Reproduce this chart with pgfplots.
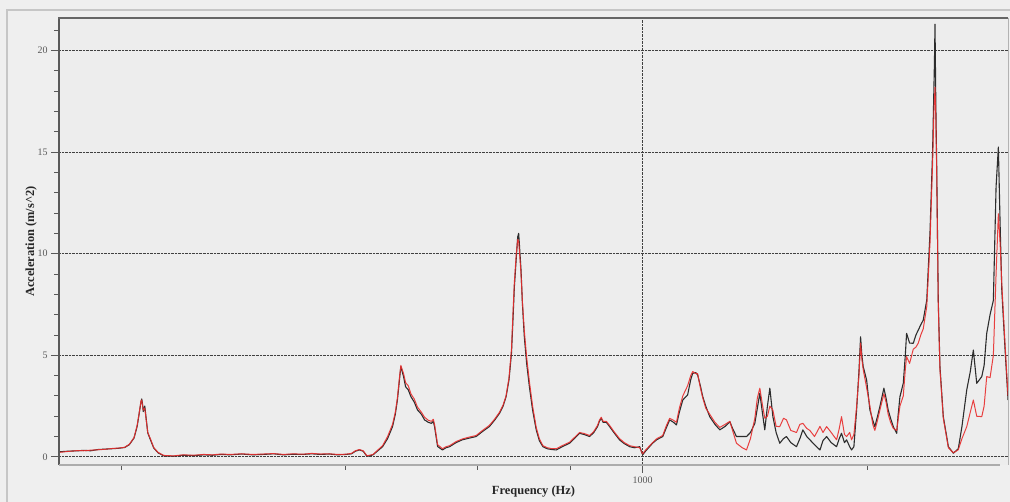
\documentclass[border=0pt]{standalone}
\usepackage{pgfplots}
\pgfplotsset{compat=1.18}
\usepackage{pgfplotstable}
\usepackage{fontspec}
\setmainfont{Liberation Serif}
\definecolor{bgc}{RGB}{239,239,239}
\definecolor{plotbg}{RGB}{237,237,237}
\definecolor{blk}{RGB}{45,45,45}
\definecolor{redc}{RGB}{232,45,45}
\definecolor{frame}{RGB}{90,90,90}

\pgfplotstableread{
f a
165 0.25
170 0.28
175 0.3
178 0.32
182 0.3
186 0.36
190 0.38
194 0.4
198 0.42
202 0.46
205 0.6
208 0.93
210 1.5
211 1.98
212.5 2.7
213 2.85
213.5 2.6
214 2.23
215 2.5
217 1.18
219 0.8
221 0.44
224 0.2
228 0.05
235 0.03
242 0.08
250 0.06
258 0.1
265 0.08
272 0.12
280 0.1
290 0.14
300 0.1
310 0.12
320 0.15
330 0.1
340 0.13
350 0.12
360 0.15
370 0.12
380 0.14
390 0.1
400 0.12
407 0.15
412 0.28
417 0.34
422 0.28
427 0.02
435 0.1
448 0.5
455 0.9
462 1.49
466 2.1
469 2.8
472 3.8
474 4.44
476 4.2
478 3.95
481 3.45
485 3.3
489 2.96
494 2.7
499 2.31
505 2.1
510 1.82
516 1.7
521 1.65
524 1.75
526 1.49
531 0.51
539 0.34
545 0.45
551 0.5
562 0.7
573 0.84
585 0.92
598 1.0
610 1.25
623 1.49
633 1.8
643 2.15
650 2.5
656 2.96
662 3.8
667 5.1
670 6.7
673 8.37
677 9.8
680 10.83
682 11.0
684 10.3
687 9.19
690 7.5
694 5.91
699 4.6
705 3.45
712 2.3
720 1.33
727 0.8
735 0.5
745 0.4
756 0.36
766 0.34
780 0.5
798 0.67
810 0.9
823 1.16
835 1.1
849 1.0
860 1.2
870 1.49
875 1.75
880 1.9
885 1.7
894 1.7
903 1.49
915 1.2
931 0.84
945 0.65
961 0.5
975 0.45
991 0.5
1000 0.1
1010 0.3
1031 0.67
1045 0.85
1064 1.0
1075 1.4
1087 1.82
1100 1.7
1110 1.57
1120 2.2
1132 2.8
1149 3.05
1160 3.8
1167 4.11
1178 4.15
1185 4.03
1195 3.5
1204 2.96
1215 2.5
1230 1.98
1250 1.6
1269 1.33
1290 1.5
1309 1.73
1320 1.4
1336 1.0
1360 1.0
1378 1.0
1395 1.2
1414 1.65
1425 2.4
1436 3.13
1447 2.2
1458 1.33
1470 2.5
1481 3.38
1495 1.98
1510 1.2
1527 0.67
1545 0.9
1559 1.0
1580 0.7
1608 0.5
1625 0.9
1640 1.33
1660 1.0
1676 0.84
1700 0.6
1729 0.34
1745 0.8
1765 1.0
1790 0.7
1820 0.5
1835 0.9
1848 1.16
1865 0.7
1877 0.84
1895 0.5
1906 0.34
1920 0.5
1936 2.31
1950 4.2
1960 5.91
1968 5.0
1976 4.44
1997 3.78
2017 2.31
2035 1.8
2048 1.49
2065 2.0
2080 2.47
2106 3.38
2120 2.9
2134 2.31
2150 1.9
2168 1.49
2191 1.16
2200 2.0
2213 2.96
2236 3.62
2250 5.0
2259 6.08
2280 5.6
2306 5.59
2325 6.0
2342 6.24
2360 6.5
2378 6.73
2404 7.71
2428 11.0
2448 15.1
2462 19.5
2466 21.3
2472 17.5
2479 14.3
2491 7.7
2504 4.44
2530 1.98
2570 0.5
2610 0.18
2650 0.4
2680 1.5
2720 3.3
2750 4.2
2776 5.26
2805 3.62
2849 3.95
2870 4.5
2893 6.08
2923 7.0
2953 7.7
2978 13.3
2999 15.25
3015 11.5
3031 8.2
3062 5.26
3090 2.8
}\blacktab

\pgfplotstableread{
f a
165 0.22
170 0.27
175 0.31
178 0.3
182 0.33
186 0.35
190 0.37
194 0.41
198 0.43
202 0.47
205 0.62
208 0.95
210 1.55
211 2.0
212.5 2.75
213 2.8
213.5 2.55
214 2.3
215 2.4
217 1.2
219 0.85
221 0.46
224 0.22
228 0.07
235 0.05
242 0.1
250 0.08
258 0.12
265 0.1
272 0.14
280 0.12
290 0.15
300 0.12
310 0.14
320 0.16
330 0.12
340 0.15
350 0.13
360 0.17
370 0.14
380 0.15
390 0.12
400 0.13
407 0.17
412 0.3
417 0.36
422 0.3
427 0.05
435 0.12
448 0.55
455 1.0
462 1.6
466 2.2
469 2.9
472 3.9
474 4.5
476 4.3
478 4.1
481 3.65
485 3.5
489 3.1
494 2.85
499 2.45
505 2.2
510 1.95
516 1.8
521 1.75
524 1.85
526 1.6
531 0.6
539 0.4
545 0.5
551 0.55
562 0.75
573 0.88
585 0.97
598 1.05
610 1.3
623 1.55
633 1.85
643 2.2
650 2.55
656 3.0
662 3.9
667 5.3
670 7.0
673 8.6
677 10.0
680 10.7
682 10.6
684 10.0
687 9.0
690 7.6
694 6.2
699 4.9
705 3.7
712 2.5
720 1.45
727 0.9
735 0.55
745 0.45
756 0.4
766 0.4
780 0.55
798 0.72
810 0.95
823 1.2
835 1.15
849 1.05
860 1.25
870 1.55
875 1.8
880 1.95
885 1.75
894 1.75
903 1.55
915 1.25
931 0.9
945 0.7
961 0.55
975 0.5
991 0.45
1000 0.15
1010 0.35
1031 0.7
1045 0.9
1064 1.05
1075 1.5
1087 1.9
1100 1.8
1110 1.7
1120 2.4
1132 3.0
1149 3.5
1160 4.0
1167 4.2
1178 4.1
1185 4.1
1195 3.4
1204 2.9
1215 2.4
1230 2.1
1250 1.7
1269 1.45
1290 1.6
1309 1.75
1320 1.3
1336 0.67
1360 0.45
1378 0.34
1395 0.9
1414 1.9
1425 2.9
1436 3.38
1447 2.6
1458 1.9
1470 2.0
1481 2.5
1495 2.3
1510 1.5
1527 1.49
1545 1.9
1559 1.82
1580 1.3
1608 1.2
1625 1.6
1640 1.65
1660 1.4
1676 1.3
1700 1.0
1729 1.5
1745 1.2
1765 1.49
1790 1.2
1820 0.84
1835 1.4
1848 1.98
1865 1.1
1877 1.0
1895 1.2
1906 0.84
1920 1.1
1936 2.47
1950 4.0
1960 5.6
1968 4.8
1976 4.3
1997 3.4
2017 2.5
2035 1.6
2048 1.3
2065 1.8
2080 2.3
2106 3.1
2120 2.7
2134 2.1
2150 1.7
2168 1.4
2191 1.3
2200 1.8
2213 2.5
2236 3.0
2250 4.3
2259 4.93
2280 4.6
2306 5.3
2325 5.4
2342 5.6
2360 6.0
2378 6.3
2404 7.4
2428 10.5
2448 14.5
2458 17.0
2466 18.2
2472 16.8
2479 14.0
2491 7.5
2504 4.3
2530 1.9
2570 0.45
2610 0.2
2650 0.35
2680 0.9
2720 1.49
2750 2.2
2776 2.8
2805 2.0
2849 1.98
2870 2.5
2893 3.95
2923 3.9
2953 5.0
2978 9.0
2999 11.97
3015 10.5
3031 8.5
3062 5.5
3090 3.0
}\redtab

\begin{document}
\begin{tikzpicture}[x=1bp,y=1bp]
\useasboundingbox (0,0) rectangle (1010,502);
\fill[bgc] (0,0) rectangle (1010,502);
\draw[gray!45, line width=1.2] (7,0) -- (7,492) -- (1010,492);
\begin{axis}[
  at={(59bp,37bp)}, anchor=south west,
  scale only axis, width=949bp, height=447bp,
  xmode=log, xmin=165, xmax=3090,
  ymin=-0.4, ymax=21.6,
  axis background/.style={fill=plotbg},
  axis x line*=bottom, axis y line*=left,
  axis line style={draw=none, -},
  xtick={1000}, xticklabels={1000},
  minor xtick={200,400,600,800,2000},
  ytick={0,5,10,15,20},
  minor ytick={1,2,3,4,6,7,8,9,11,12,13,14,16,17,18,19,21},
  tick align=outside,
  major tick length=8bp, minor tick length=5bp,
  every tick/.style={gray!70!black, line width=0.9bp},
  xmajorgrids, ymajorgrids,
  major grid style={densely dotted, black!75, line width=0.9bp},
  /pgf/number format/assume math mode=true,
  ticklabel style={font=\fontsize{10}{11}\selectfont, text=gray!70!black},
  xlabel={\bfseries Frequency (Hz)},
  ylabel={\bfseries Acceleration (m/s\^{}2)},
  label style={font=\fontsize{12.5}{13}\selectfont, text=black!85},
  xlabel style={yshift=4bp},
  ylabel style={yshift=-6bp},
]
\addplot[blk, line width=1.1bp, line join=round] table[x=f,y=a] {\blacktab};
\addplot[redc, line width=1.0bp, line join=round, opacity=0.9] table[x=f,y=a] {\redtab};
\end{axis}
\draw[frame, line width=2.5] (59,37) -- (59,484);
\draw[gray!80!black, line width=2] (58,484) -- (1008,484);
\draw[gray!60, line width=0.8] (1008,484) -- (1008,37);
\draw[gray!65, line width=2] (59,37) -- (1000,37);
\end{tikzpicture}
\end{document}
